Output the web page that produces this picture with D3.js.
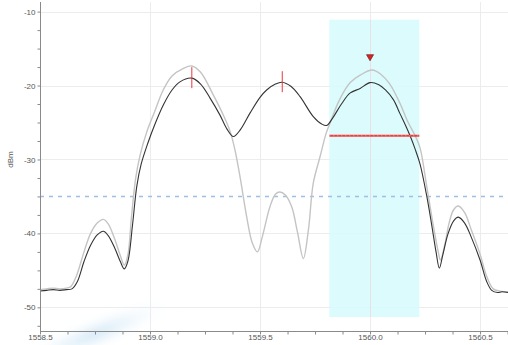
<!DOCTYPE html>
<html>
<head>
<meta charset="utf-8">
<script src="https://cdn.jsdelivr.net/npm/d3@7"></script>
<style>
  html, body { margin: 0; padding: 0; background: #fff; }
  svg { display: block; font-family: "Liberation Sans", Arial, sans-serif; }
  .axis text { fill: #555; font-size: 8px; }
  .axis path, .axis line { stroke: #8a8a8a; }
</style>
</head>
<body>
<div id="chart"></div>
<script>
// trace A (dark)
const wlA = [1558.50, 1558.53, 1558.56, 1558.59, 1558.62, 1558.645, 1558.67, 1558.70, 1558.73, 1558.76,
  1558.788, 1558.81, 1558.84, 1558.865, 1558.883, 1558.90, 1558.92, 1558.94, 1558.96, 1558.99, 1559.02,
  1559.061, 1559.10, 1559.136, 1559.19, 1559.23, 1559.273, 1559.318, 1559.35, 1559.379, 1559.41,
  1559.455, 1559.50, 1559.53, 1559.57, 1559.60, 1559.64, 1559.682, 1559.742, 1559.78, 1559.803,
  1559.83, 1559.87, 1559.91, 1559.955, 1560.00, 1560.04, 1560.07, 1560.106, 1560.136, 1560.16,
  1560.182, 1560.205, 1560.227, 1560.258, 1560.28, 1560.30, 1560.315, 1560.33, 1560.355, 1560.38,
  1560.401, 1560.43, 1560.46, 1560.50, 1560.53, 1560.553, 1560.58, 1560.60, 1560.627];
const dbmA = [-47.8, -47.7, -47.6, -47.7, -47.6, -47.5, -46.5, -43.8, -41.6, -40.2,
  -39.7, -40.3, -42.0, -43.8, -44.8, -43.7, -39.0, -33.6, -30.6, -27.8, -25.4,
  -22.6, -20.6, -19.5, -19.0, -19.8, -21.7, -24.0, -25.9, -26.9, -26.0,
  -23.7, -21.6, -20.6, -19.8, -19.55, -20.1, -21.5, -24.2, -25.2, -25.4,
  -24.4, -22.5, -21.0, -20.4, -19.6, -19.9, -20.6, -21.9, -23.8, -25.3,
  -26.8, -28.6, -30.6, -35.0, -38.8, -42.5, -44.7, -43.0, -40.0, -38.3,
  -37.8, -38.6, -40.5, -43.6, -46.5, -47.7, -48.0, -47.9, -48.0];

// trace B (light)
const wlB = [1558.50, 1558.53, 1558.56, 1558.59, 1558.62, 1558.64, 1558.665, 1558.70, 1558.73, 1558.76,
  1558.788, 1558.81, 1558.84, 1558.865, 1558.883, 1558.90, 1558.915, 1558.935, 1558.955, 1558.985, 1559.02,
  1559.06, 1559.10, 1559.15, 1559.19, 1559.23, 1559.288, 1559.33, 1559.364, 1559.386, 1559.41,
  1559.439, 1559.465, 1559.488, 1559.51, 1559.545, 1559.57, 1559.59, 1559.615, 1559.644, 1559.67,
  1559.697, 1559.72, 1559.742, 1559.773, 1559.80, 1559.818, 1559.86, 1559.91, 1559.955, 1560.01,
  1560.05, 1560.09, 1560.136, 1560.17, 1560.205, 1560.227, 1560.258, 1560.285, 1560.31, 1560.32,
  1560.34, 1560.36, 1560.38, 1560.401, 1560.43, 1560.46, 1560.50, 1560.53, 1560.56, 1560.59, 1560.627];
const dbmB = [-47.6, -47.5, -47.4, -47.5, -47.4, -47.2, -45.8, -42.5, -40.0, -38.6,
  -38.1, -38.7, -40.8, -43.0, -44.3, -42.8, -38.0, -32.5, -29.4, -26.3, -23.6,
  -20.6, -18.7, -17.7, -17.35, -18.2, -21.3, -23.8, -26.2, -28.7, -32.5,
  -37.7, -41.3, -42.5, -40.5, -36.4, -34.7, -34.4, -34.8, -36.4, -39.8,
  -43.4, -39.5, -33.2, -29.6, -26.5, -25.1, -22.0, -19.6, -18.6, -17.9,
  -18.5, -19.8, -22.4, -24.8, -26.8, -28.4, -33.7, -38.5, -42.5, -43.6,
  -41.5, -38.5, -36.8, -36.3, -37.2, -39.5, -42.8, -45.8, -47.5, -47.8, -47.9];

const xTicks = [1558.5, 1559.0, 1559.5, 1560.0, 1560.5];
const yTicks = [-10, -20, -30, -40, -50];
const band = [1559.815, 1560.224, -11.1, -51.3];   // x0, x1, top, bottom
const threshold = -35;
const bandLevel = -26.8;
const peakMarker = [1560.0, -16.1];
const peakTicks = [[1559.19, -19.0], [1559.601, -19.55]];

const width = 508, height = 345;
const margin = {top: 2, right: 0, bottom: 14, left: 40};
const w = width - margin.left - margin.right,
      h = height - margin.top - margin.bottom;

const svg = d3.select('#chart').append('svg')
    .attr('width', width)
    .attr('height', height);

// faint swoosh in bottom left
const defs = svg.append('defs');
const grad = defs.append('radialGradient').attr('id', 'swoosh');
grad.append('stop').attr('offset', '0%').attr('stop-color', '#a9d3ee').attr('stop-opacity', 0.6);
grad.append('stop').attr('offset', '100%').attr('stop-color', '#ffffff').attr('stop-opacity', 0);
defs.append('filter').attr('id', 'blur').append('feGaussianBlur').attr('stdDeviation', 4);
svg.append('ellipse')
    .attr('cx', 95).attr('cy', 334).attr('rx', 90).attr('ry', 16)
    .attr('transform', 'rotate(-22 95 334)')
    .attr('fill', 'url(#swoosh)')
    .attr('filter', 'url(#blur)');

const g = svg.append('g')
    .attr('transform', 'translate(' + margin.left + ',' + margin.top + ')');

const x = d3.scaleLinear().domain([1558.5, 1560.627]).range([0, w]);
const y = d3.scaleLinear().domain([-53.2, -8.7]).range([h, 0]);

// grid
g.append('g').selectAll('line.gx')
    .data(xTicks.slice(1))
    .enter().append('line')
    .attr('x1', d => Math.round(x(d)) + 0.5).attr('x2', d => Math.round(x(d)) + 0.5)
    .attr('y1', 0).attr('y2', h)
    .attr('stroke', '#ececec');
g.append('g').selectAll('line.gy')
    .data(yTicks)
    .enter().append('line')
    .attr('x1', 0).attr('x2', w)
    .attr('y1', d => Math.round(y(d)) + 0.5).attr('y2', d => Math.round(y(d)) + 0.5)
    .attr('stroke', '#ececec');

// highlight band
g.append('rect')
    .attr('x', x(band[0]))
    .attr('y', y(band[2]))
    .attr('width', x(band[1]) - x(band[0]))
    .attr('height', y(band[3]) - y(band[2]))
    .attr('fill', '#d7fbfc')
    .attr('opacity', 0.9);
// grid line over the band
g.append('line')
    .attr('x1', Math.round(x(1560.0)) + 0.5).attr('x2', Math.round(x(1560.0)) + 0.5)
    .attr('y1', y(band[2])).attr('y2', y(band[3]))
    .attr('stroke', '#eadfe6');

// threshold
g.append('line')
    .attr('x1', 0).attr('x2', w)
    .attr('y1', Math.round(y(threshold)) + 0.5).attr('y2', Math.round(y(threshold)) + 0.5)
    .attr('stroke', '#9dc0e4')
    .attr('stroke-width', 1.3)
    .attr('stroke-dasharray', '4,5');

const line = d3.line()
    .x(d => x(d[0]))
    .y(d => y(d[1]))
    .curve(d3.curveCatmullRom.alpha(0.5));

g.append('path')
    .datum(d3.zip(wlB, dbmB))
    .attr('d', line)
    .attr('fill', 'none')
    .attr('stroke', '#c4c4c4')
    .attr('stroke-width', 1.4);

g.append('path')
    .datum(d3.zip(wlA, dbmA))
    .attr('d', line)
    .attr('fill', 'none')
    .attr('stroke', '#333')
    .attr('stroke-width', 1.1);

// band level (red dotted)
g.append('line')
    .attr('x1', x(band[0])).attr('x2', x(band[1]))
    .attr('y1', y(bandLevel)).attr('y2', y(bandLevel))
    .attr('stroke', '#f03a3a')
    .attr('stroke-width', 2);
g.append('line')
    .attr('x1', x(band[0])).attr('x2', x(band[1]))
    .attr('y1', y(bandLevel)).attr('y2', y(bandLevel))
    .attr('stroke', '#ffd0d0')
    .attr('stroke-width', 0.7)
    .attr('stroke-dasharray', '1,3');

// peak ticks
g.append('g').selectAll('line')
    .data(peakTicks)
    .enter().append('line')
    .attr('x1', d => x(d[0])).attr('x2', d => x(d[0]))
    .attr('y1', d => y(d[1]) - 11).attr('y2', d => y(d[1]) + 10)
    .attr('stroke', '#e8383d')
    .attr('stroke-width', 1);

// peak marker
g.append('path')
    .attr('d', d3.symbol().type(d3.symbolTriangle).size(22))
    .attr('transform', 'translate(' + x(peakMarker[0]) + ',' + y(peakMarker[1]) + ') rotate(180)')
    .attr('fill', '#e02020')
    .attr('stroke', '#5a1a1a')
    .attr('stroke-width', 0.6);

// axes
const xMinor = d3.range(1558.5, 1560.63, 0.125);
const xAxis = g.append('g')
    .attr('class', 'axis')
    .attr('transform', 'translate(0,' + (h + 0.5) + ')')
    .call(d3.axisBottom(x).tickValues(xMinor).tickSize(3)
        .tickFormat(d => xTicks.some(t => Math.abs(t - d) < 1e-6) ? d3.format('.1f')(d) : ''));
xAxis.select('.domain').attr('d', 'M0,0H' + w);
xAxis.selectAll('text').attr('y', 3).attr('dy', '0.71em');

const yMinor = d3.range(-52.5, -9, 2.5);
const yAxis = g.append('g')
    .attr('class', 'axis')
    .attr('transform', 'translate(0.5,0)')
    .call(d3.axisLeft(y).tickValues(yMinor).tickSize(3)
        .tickFormat(d => yTicks.indexOf(d) >= 0 ? d : ''));
yAxis.select('.domain').attr('d', 'M0,0V' + h);
yAxis.selectAll('text').attr('x', -5);

g.append('text')
    .attr('transform', 'translate(' + (-27) + ',' + y(-30) + ') rotate(-90)')
    .attr('text-anchor', 'middle')
    .attr('fill', '#555')
    .attr('font-size', '8px')
    .text('dBm');
</script>
</body>
</html>
